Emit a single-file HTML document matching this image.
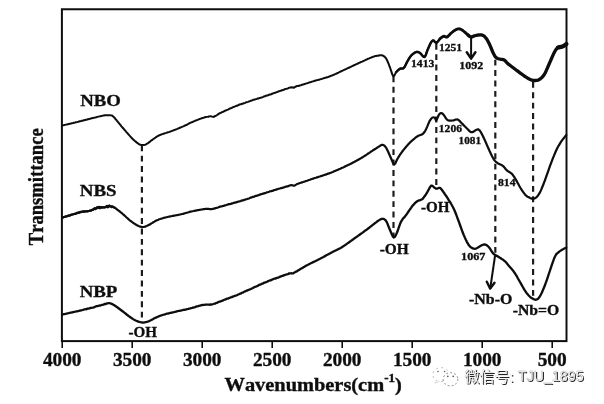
<!DOCTYPE html>
<html><head><meta charset="utf-8"><title>FTIR</title>
<style>
html,body{margin:0;padding:0;background:#fff;}
body{width:604px;height:404px;overflow:hidden;font-family:"Liberation Serif",serif;}
svg{display:block;position:absolute;left:0;top:0}
text{font-family:"Liberation Serif",serif;font-weight:bold;fill:#111;stroke:#111;stroke-width:0.35px;font-kerning:none;}
.sans{font-family:"Liberation Sans",sans-serif;font-weight:normal;stroke:none;}
.cjk{font-family:"Liberation Sans","Noto Sans CJK SC",sans-serif;font-weight:normal;stroke:none;}
</style></head><body>
<svg width="604" height="404" viewBox="0 0 604 404">
<defs>
<filter id="soft" x="-2%" y="-2%" width="104%" height="104%"><feGaussianBlur stdDeviation="0.45"/></filter>
<filter id="soft2" x="-2%" y="-10%" width="104%" height="120%"><feGaussianBlur stdDeviation="0.3"/></filter>
</defs>
<rect width="604" height="404" fill="#fff"/>
<g filter="url(#soft)">
<!-- frame -->
<rect x="61.9" y="9.25" width="504.6" height="331.85" fill="none" stroke="#111" stroke-width="2"/>
<g stroke="#111" stroke-width="1.6"><line x1="62.20" y1="341" x2="62.20" y2="348"/><line x1="132.20" y1="341" x2="132.20" y2="348"/><line x1="202.20" y1="341" x2="202.20" y2="348"/><line x1="272.20" y1="341" x2="272.20" y2="348"/><line x1="342.20" y1="341" x2="342.20" y2="348"/><line x1="412.20" y1="341" x2="412.20" y2="348"/><line x1="482.20" y1="341" x2="482.20" y2="348"/><line x1="552.20" y1="341" x2="552.20" y2="348"/></g>
<!-- dashed markers -->
<g stroke="#1e1e1e" stroke-width="2.2" stroke-dasharray="5.9 4.5"><line x1="141.90" y1="145.3" x2="141.90" y2="318.0"/><line x1="393.50" y1="76.4" x2="393.50" y2="236.5"/><line x1="436.30" y1="43.8" x2="436.30" y2="186.0"/><line x1="495.30" y1="59.7" x2="495.30" y2="255.5"/><line x1="533.10" y1="81.9" x2="533.10" y2="298.5"/></g>
<!-- curves -->
<g fill="none" stroke="#0a0a0a" stroke-linejoin="round" stroke-linecap="round">
<path stroke-width="2" d="M62.50 125.47L63.01 125.38L63.62 125.22L64.31 125.07L65.08 124.89L65.92 124.63L66.82 124.41L67.77 124.26L68.76 123.96L69.79 123.71L70.84 123.53L71.91 123.22L72.99 122.99L74.06 122.70L75.13 122.46L76.17 122.15L77.19 121.95L78.18 121.73L79.12 121.47L80.00 121.27L81.02 121.02L82.04 120.70L83.06 120.52L84.07 120.25L85.08 119.96L86.08 119.68L87.07 119.52L88.05 119.23L89.00 119.01L89.94 118.79L90.86 118.55L91.75 118.34L92.61 118.08L93.44 117.91L94.24 117.68L95.00 117.54L96.26 117.23L97.41 116.86L98.47 116.60L99.45 116.37L100.38 116.22L101.25 115.97L102.09 115.81L102.92 115.62L103.75 115.50L104.97 115.32L106.11 115.20L107.19 115.15L108.19 115.13L109.13 115.20L110.00 115.27L111.00 115.38L111.72 115.49L112.52 115.95L113.75 117.02L114.50 117.74L115.33 118.77L116.25 119.87L117.23 121.07L118.25 122.31L119.31 123.64L120.38 124.92L121.45 126.29L122.50 127.51L123.38 128.50L124.30 129.54L125.25 130.72L126.21 131.85L127.19 132.87L128.15 134.04L129.11 135.08L130.03 136.07L130.91 137.05L131.74 137.98L132.50 138.79L133.78 139.95L134.94 141.05L135.99 141.87L136.94 142.67L137.77 143.25L138.50 143.84L139.80 144.64L140.60 144.80L141.58 145.09L142.60 145.08L143.77 144.95L145.00 144.71L146.01 144.33L147.50 143.47L148.32 142.89L149.31 142.15L150.39 141.25L151.53 140.34L152.66 139.56L153.75 138.73L154.72 138.12L155.60 137.48L156.48 136.83L157.45 136.25L158.60 135.64L160.00 135.01L160.75 134.70L161.57 134.39L162.43 134.10L163.34 133.82L164.30 133.47L165.28 133.15L166.29 132.86L167.32 132.49L168.36 132.16L169.40 131.89L170.45 131.49L171.48 131.13L172.50 130.70L173.40 130.39L174.35 130.04L175.33 129.59L176.34 129.24L177.36 128.82L178.39 128.33L179.41 127.96L180.42 127.52L181.41 127.12L182.36 126.68L183.27 126.32L184.12 125.96L184.91 125.54L185.62 125.23L186.25 125.02L187.69 124.35L188.20 123.93L188.68 123.62L190.00 123.01L190.69 122.69L191.48 122.35L192.36 121.97L193.32 121.56L194.34 121.16L195.40 120.69L196.48 120.25L197.57 119.85L198.64 119.35L199.69 119.00L200.70 118.64L201.64 118.27L202.50 117.97L203.67 117.68L204.82 117.32L205.93 117.06L206.99 116.87L208.00 116.74L208.94 116.43L209.80 116.36L210.57 116.27L211.25 116.37L212.50 116.67L213.75 116.88L214.40 116.35L215.11 116.04L215.88 115.71L216.73 115.29L217.67 114.57L218.70 113.88L219.85 113.20L221.11 112.69L222.50 111.89L223.20 111.78L223.94 111.45L224.69 110.86L225.48 110.54L226.29 110.35L227.12 109.91L227.98 109.58L228.87 109.02L229.77 108.54L230.70 108.19L231.65 107.96L232.63 107.36L233.62 106.97L234.64 106.57L235.67 106.15L236.73 105.73L237.80 105.49L238.89 104.79L240.00 104.32L240.80 104.37L241.63 104.04L242.48 103.78L243.35 103.28L244.24 103.16L245.15 102.84L246.07 102.27L247.01 102.15L247.96 101.86L248.92 101.49L249.89 101.12L250.87 100.72L251.85 100.42L252.84 100.06L253.82 99.68L254.80 99.56L255.78 99.13L256.76 99.01L257.73 98.42L258.69 98.42L259.64 98.04L260.57 97.82L261.49 97.51L262.40 97.21L263.29 96.80L264.15 96.31L265.00 96.29L266.03 95.73L267.06 95.43L268.09 95.20L269.12 94.80L270.15 94.40L271.18 94.23L272.20 93.76L273.21 93.31L274.21 92.92L275.19 92.80L276.16 92.32L277.10 92.10L278.03 91.62L278.93 91.24L279.81 91.06L280.65 90.86L281.47 90.35L282.25 90.30L283.00 90.08L283.71 89.80L284.38 89.58L285.00 89.07L286.67 88.74L287.96 88.39L288.94 87.78L289.70 87.63L290.33 87.46L290.90 87.43L291.50 87.27L293.00 87.39L294.00 87.70L295.19 86.90L296.50 86.24L297.17 86.09L297.94 85.98L300.00 85.46L300.62 85.36L301.32 85.12L302.10 84.80L302.94 84.58L303.84 84.27L304.78 83.97L305.77 83.66L306.78 83.36L307.82 83.03L308.87 82.67L309.93 82.31L310.98 81.99L312.02 81.64L313.05 81.36L314.04 81.07L315.00 80.74L315.94 80.42L316.88 80.16L317.81 79.91L318.75 79.67L319.69 79.43L320.62 79.13L321.56 78.92L322.50 78.64L323.44 78.35L324.38 78.08L325.31 77.81L326.25 77.55L327.19 77.22L328.12 76.94L329.06 76.59L330.00 76.22L330.94 75.89L331.88 75.54L332.81 75.08L333.75 74.72L334.69 74.31L335.62 73.93L336.56 73.51L337.50 73.02L338.44 72.63L339.38 72.18L340.31 71.68L341.25 71.25L342.19 70.78L343.12 70.40L344.06 69.95L345.00 69.54L345.94 69.10L346.89 68.64L347.85 68.20L348.81 67.74L349.77 67.24L350.73 66.84L351.70 66.32L352.66 65.89L353.61 65.50L354.56 64.98L355.50 64.54L356.43 64.11L357.34 63.76L358.24 63.27L359.13 62.85L360.00 62.53L361.06 61.98L362.12 61.57L363.18 61.06L364.24 60.60L365.27 60.14L366.29 59.64L367.29 59.21L368.26 58.71L369.20 58.37L370.09 57.97L370.95 57.63L371.75 57.25L372.50 57.02L373.93 56.54L375.14 56.10L376.17 55.89L377.08 55.75L377.93 55.65L378.75 55.47L379.86 55.29L380.78 55.18L381.62 55.25L382.50 55.53L383.44 55.94L384.38 56.56L385.31 57.46L386.25 58.74L387.20 60.54L388.16 62.74L389.10 65.18L390.00 67.55L391.13 70.89L392.20 74.32L393.25 76.22L394.24 75.78L395.20 73.85L396.25 72.02L397.13 71.06L398.08 70.15L399.04 69.38L400.00 68.79L400.94 68.49L401.88 68.55L402.81 68.58L403.75 68.04L404.69 66.71L405.62 64.93L406.56 63.03L407.50 61.22L408.41 59.67L409.30 58.14L410.22 56.76L411.25 55.48L412.19 54.56L413.22 53.74L414.28 53.01L415.31 52.36L416.25 52.02L417.26 51.85L418.16 52.07L419.04 52.44L420.00 52.98L420.88 53.76L421.82 54.86L422.77 56.05L423.68 56.84L424.50 56.97L425.58 55.50L426.50 52.80L427.50 50.03L428.41 47.88L429.41 45.71L430.38 43.56L431.25 42.01L432.58 40.59L433.75 40.53L434.92 41.95L436.25 43.01L437.10 42.37L438.05 41.21L439.03 39.88L440.00 38.74L440.95 37.95L441.91 37.23L442.85 36.60L443.75 36.22L444.83 36.41L445.86 37.00L447.00 37.02L447.97 36.37L449.02 35.30L450.11 34.05L451.25 32.97L452.22 32.20L453.26 31.39L454.30 30.68L455.32 30.04L456.25 29.54L457.28 29.08L458.20 28.93L459.09 28.84L460.00 28.99L460.93 29.36L461.84 29.82L462.78 30.48L463.75 31.28L464.81 32.10L465.92 33.13L467.01 34.16L468.00 35.02L469.04 35.88L469.94 36.64L471.00 36.99L471.78 36.91L472.61 36.58L473.50 36.20L474.46 35.84L475.50 35.49L476.47 35.33L477.55 35.11L478.67 34.98L479.79 34.92L480.83 34.86L481.75 35.04L482.86 35.37L483.78 35.79L484.62 36.59L485.50 37.49L486.44 38.77L487.38 40.26L488.31 41.90L489.25 43.77L490.21 45.87L491.17 48.23L492.12 50.49L493.00 52.53L494.00 54.61L494.92 56.23L496.00 57.50L496.82 58.04L497.73 58.48L498.68 58.76L499.62 59.04L500.50 59.27L501.49 59.44L502.42 59.47L503.33 59.64L504.25 60.01L505.10 60.65L505.89 61.60L506.80 62.62L508.00 63.71L508.76 64.42L509.61 65.02L510.54 65.75L511.52 66.54L512.52 67.28L513.54 68.04L514.54 68.79L515.50 69.50L516.45 70.19L517.40 70.90L518.37 71.60L519.33 72.38L520.28 73.08L521.21 73.74L522.12 74.41L523.00 74.99L524.13 75.76L525.22 76.53L526.28 77.29L527.31 77.86L528.30 78.50L529.25 78.97L530.33 79.53L531.34 79.89L532.31 80.18L533.27 80.39L534.25 80.50L535.25 80.55L536.25 80.46L537.25 80.34L538.25 79.96L539.25 79.48L540.25 78.81L541.25 78.03L542.25 77.13L543.25 75.95L544.25 74.47L545.25 72.69L546.25 70.63L547.25 68.39L548.25 66.06L549.25 63.77L550.27 61.44L551.31 58.95L552.34 56.56L553.33 54.33L554.25 52.50L555.25 50.73L556.12 49.34L557.00 48.31L558.00 47.53L558.95 46.99L559.99 46.83L561.06 46.72L562.08 46.59L563.00 46.29L564.38 45.53L565.58 44.65L566.40 44.01"/>
<path stroke-width="2.4" d="M396.25 72.00L396.92 71.36L397.89 70.42L398.97 69.46L400.00 68.75L400.94 68.53L401.88 68.59L402.81 68.55L403.75 68.00L404.69 66.71L405.62 64.94L406.56 63.01L407.50 61.25L408.41 59.69L409.30 58.17L410.22 56.76L411.25 55.50L412.19 54.58L413.22 53.72L414.28 52.97L415.31 52.38L416.25 52.00L417.26 51.86L418.16 52.03L419.04 52.43L420.00 53.00L420.88 53.78L421.82 54.91L422.77 56.05L423.68 56.86L424.50 57.00L425.58 55.52L426.50 52.81L427.50 50.00L428.41 47.92L429.41 45.66L430.38 43.57L431.25 42.00L432.58 40.59L433.75 40.50L434.92 41.92L436.25 43.00L437.19 42.31L438.28 41.03L439.30 39.67L440.00 38.75"/>
<path stroke-width="2.8" d="M440.00 38.75L440.69 38.22L441.67 37.45L442.76 36.71L443.75 36.25L444.83 36.44L445.86 36.98L447.00 37.00L447.97 36.32L449.02 35.27L450.11 34.08L451.25 33.00L452.22 32.22L453.26 31.42L454.30 30.66L455.32 30.00L456.25 29.50L457.28 29.10L458.20 28.89L459.09 28.86L460.00 29.00L460.93 29.33L461.84 29.86L462.78 30.52L463.75 31.25L464.81 32.12L465.92 33.14L467.01 34.15L468.00 35.00L469.20 35.87L470.27 36.55L471.00 37.00"/>
<path stroke-width="3.3" d="M468.00 35.00L468.72 35.65L469.78 36.52L471.00 37.00L471.78 36.91L472.61 36.60L473.50 36.20L474.46 35.79L475.50 35.50L476.47 35.32L477.55 35.15L478.67 35.00L479.79 34.91L480.83 34.90L481.75 35.00L482.86 35.33L483.78 35.83L484.62 36.54L485.50 37.50L486.44 38.74L487.38 40.23L488.31 41.92L489.25 43.75L490.21 45.85L491.17 48.20L492.12 50.52L493.00 52.50L494.00 54.56L494.92 56.21L496.00 57.50L496.82 58.07L497.73 58.48L498.68 58.78L499.62 59.02L500.50 59.25L501.49 59.44L502.42 59.50L503.33 59.62L504.25 60.00L505.10 60.68L505.89 61.56L506.80 62.60L508.00 63.75L508.76 64.37L509.61 65.05L510.54 65.77L511.52 66.52L512.52 67.27L513.54 68.03L514.54 68.78L515.50 69.50L516.45 70.21L517.40 70.93L518.37 71.65L519.33 72.36L520.28 73.06L521.21 73.74L522.12 74.39L523.00 75.00L524.13 75.78L525.22 76.54L526.28 77.25L527.31 77.91L528.30 78.50L529.25 79.00L530.33 79.50L531.34 79.90L532.31 80.20L533.27 80.40L534.25 80.50L535.25 80.52L536.25 80.47L537.25 80.31L538.25 80.00L539.25 79.50L540.25 78.85L541.25 78.06L542.25 77.11L543.25 75.93L544.25 74.50L545.25 72.73L546.25 70.64L547.25 68.36L548.25 66.02L549.25 63.75L550.27 61.43L551.31 58.99L552.34 56.57L553.33 54.36L554.25 52.50L555.25 50.72L556.12 49.37L557.00 48.34L558.00 47.50L558.95 47.03L559.99 46.80L561.06 46.68L562.08 46.55L563.00 46.30L564.38 45.53L565.58 44.64L566.40 44.00"/>
<path stroke-width="4.2" d="M558.00 47.50L558.71 47.35L559.72 47.16L560.88 46.92L562.02 46.63L563.00 46.30L564.38 45.53L565.58 44.64L566.40 44.00"/>
<path stroke-width="2.2" d="M62.50 217.55L63.03 217.36L63.71 217.11L64.51 216.93L65.40 216.62L66.37 216.34L67.39 216.04L68.44 215.65L69.50 215.41L70.55 215.09L71.55 214.77L72.50 214.50L73.42 214.23L74.35 213.93L75.29 213.69L76.24 213.36L77.19 213.13L78.12 212.88L79.05 212.61L79.95 212.37L80.83 212.19L81.68 211.97L82.50 211.71L83.57 211.58L84.58 211.43L85.55 211.27L86.48 211.22L87.39 211.13L88.27 211.03L89.14 210.94L90.00 210.79L91.10 210.38L92.13 209.99L93.12 209.49L94.12 208.95L95.15 208.58L96.25 208.21L97.14 208.05L98.07 207.89L99.03 207.77L100.00 207.64L100.97 207.61L101.93 207.54L102.86 207.45L103.75 207.29L104.88 207.12L105.99 206.85L107.06 206.57L108.09 206.34L109.07 206.20L110.00 206.17L110.96 206.21L111.76 206.35L112.53 206.60L113.40 206.98L114.50 207.59L115.34 208.15L116.27 208.77L117.27 209.53L118.31 210.37L119.38 211.18L120.45 212.03L121.50 212.96L122.50 213.77L123.46 214.56L124.41 215.42L125.35 216.32L126.28 217.21L127.21 218.04L128.14 218.87L129.07 219.71L130.00 220.53L130.95 221.20L131.92 221.95L132.90 222.63L133.88 223.30L134.83 223.93L135.77 224.53L136.66 225.02L137.50 225.45L138.53 225.95L139.47 226.36L140.36 226.69L141.22 226.84L142.09 226.95L143.00 226.99L143.91 226.89L144.79 226.72L145.67 226.36L146.60 226.01L147.62 225.54L148.75 224.95L149.58 224.61L150.47 224.02L151.40 223.44L152.36 222.87L153.36 222.22L154.38 221.64L155.41 221.02L156.46 220.45L157.50 219.96L158.35 219.67L159.21 219.30L160.07 219.05L160.94 218.74L161.82 218.52L162.72 218.20L163.63 217.94L164.56 217.70L165.51 217.52L166.49 217.26L167.50 216.98L168.38 216.75L169.29 216.61L170.21 216.45L171.16 216.23L172.13 215.99L173.10 215.81L174.09 215.63L175.08 215.46L176.07 215.26L177.06 215.07L178.05 214.94L179.03 214.76L180.00 214.47L180.96 214.32L181.92 214.03L182.88 213.81L183.85 213.56L184.81 213.30L185.77 212.95L186.73 212.71L187.69 212.47L188.65 212.25L189.62 211.91L190.58 211.68L191.54 211.50L192.50 211.21L193.48 211.03L194.47 210.81L195.49 210.63L196.51 210.45L197.54 210.18L198.56 210.04L199.57 209.85L200.56 209.69L201.52 209.50L202.46 209.39L203.35 209.20L204.20 209.09L205.00 208.97L206.16 208.94L207.17 208.91L208.07 208.92L208.91 208.95L209.72 209.20L210.57 209.20L211.48 209.20L212.50 208.96L213.29 208.84L214.06 208.54L214.84 208.52L215.64 208.03L216.45 207.93L217.31 207.74L218.21 207.41L219.16 206.88L220.19 206.60L221.30 206.47L222.50 206.05L223.23 205.93L223.99 205.73L224.76 205.37L225.56 205.32L226.38 205.05L227.22 204.69L228.07 204.48L228.95 204.15L229.85 204.04L230.78 204.00L231.72 203.44L232.68 203.36L233.66 202.93L234.67 202.64L235.69 202.56L236.74 202.12L237.80 201.74L238.89 201.46L240.00 201.30L240.80 201.03L241.63 200.57L242.48 200.38L243.35 200.36L244.24 199.81L245.15 199.63L246.07 199.28L247.01 199.09L247.96 198.71L248.92 198.46L249.89 198.04L250.87 197.59L251.85 197.25L252.84 196.89L253.82 196.82L254.80 196.23L255.78 195.87L256.76 195.88L257.73 195.28L258.69 195.21L259.64 194.60L260.57 194.43L261.49 194.03L262.40 193.96L263.29 193.59L264.15 193.32L265.00 193.09L266.03 192.81L267.06 192.30L268.09 192.07L269.12 191.70L270.15 191.26L271.18 191.21L272.20 190.81L273.21 190.59L274.21 190.07L275.19 189.90L276.16 189.58L277.10 189.40L278.03 188.89L278.93 188.72L279.81 188.52L280.65 188.12L281.47 188.05L282.25 187.89L283.00 187.56L283.71 187.43L284.38 187.22L285.00 186.90L286.67 186.45L287.96 186.29L288.94 185.76L289.70 185.57L290.33 185.28L290.90 185.20L291.50 185.08L293.00 185.53L294.00 185.68L295.19 185.13L296.50 184.38L297.17 183.96L297.94 183.78L300.00 183.00L300.62 182.78L301.32 182.60L302.10 182.34L302.94 182.06L303.84 181.72L304.78 181.43L305.77 181.07L306.78 180.79L307.82 180.43L308.87 180.02L309.93 179.73L310.98 179.31L312.02 178.95L313.05 178.67L314.04 178.30L315.00 178.00L315.94 177.70L316.88 177.34L317.81 177.11L318.75 176.76L319.69 176.48L320.62 176.18L321.56 175.92L322.50 175.62L323.44 175.27L324.38 174.95L325.31 174.65L326.25 174.35L327.19 173.99L328.12 173.66L329.06 173.38L330.00 173.02L330.94 172.68L331.88 172.32L332.81 171.93L333.75 171.50L334.69 171.09L335.62 170.71L336.56 170.32L337.50 169.92L338.44 169.51L339.38 169.08L340.31 168.71L341.25 168.22L342.19 167.81L343.12 167.42L344.06 166.97L345.00 166.48L345.94 166.03L346.89 165.63L347.85 165.09L348.81 164.63L349.77 164.20L350.73 163.72L351.70 163.20L352.66 162.71L353.61 162.23L354.56 161.80L355.50 161.27L356.43 160.83L357.34 160.31L358.24 159.84L359.13 159.25L360.00 158.77L361.06 158.13L362.12 157.53L363.18 156.86L364.24 156.16L365.27 155.53L366.29 154.81L367.29 154.17L368.26 153.51L369.20 152.93L370.09 152.29L370.95 151.70L371.75 151.14L372.50 150.69L373.93 149.78L375.14 149.00L376.17 148.35L377.08 147.76L377.93 147.17L378.75 146.66L379.86 145.98L380.78 145.33L381.62 144.87L382.50 144.83L383.41 145.07L384.30 145.59L385.22 146.52L386.25 147.95L387.20 149.76L388.26 152.04L389.33 154.49L390.36 156.80L391.25 158.77L392.39 161.51L393.31 163.65L394.25 164.51L395.25 163.49L396.28 161.22L397.50 158.72L398.35 157.35L399.25 155.95L400.24 154.47L401.31 152.86L402.50 151.24L403.32 150.18L404.20 149.09L405.13 147.98L406.09 146.79L407.08 145.70L408.07 144.51L409.05 143.46L410.00 142.50L410.95 141.56L411.92 140.71L412.90 139.84L413.88 139.03L414.83 138.22L415.77 137.44L416.66 136.84L417.50 136.25L418.56 135.64L419.56 135.21L420.52 134.94L421.41 134.67L422.24 134.23L423.00 133.77L424.25 132.35L425.25 130.70L426.25 128.79L427.34 126.34L428.44 123.58L429.50 121.22L430.54 119.61L431.55 118.26L432.50 117.49L433.86 117.39L435.00 117.98L435.62 119.60L436.25 120.54L437.42 118.08L438.75 114.98L440.00 113.52L441.25 112.98L442.42 113.53L443.75 114.98L444.57 116.19L445.47 117.55L446.45 118.97L447.50 119.97L448.42 120.37L449.41 120.60L450.44 120.65L451.48 120.60L452.50 120.51L453.52 120.36L454.55 119.94L455.57 119.63L456.56 119.48L457.50 119.46L458.55 120.00L459.50 120.87L460.45 121.89L461.50 123.00L462.44 123.87L463.43 124.90L464.45 126.03L465.48 126.99L466.50 128.04L467.50 128.97L468.50 130.13L469.50 131.09L470.50 131.86L471.50 132.21L472.54 132.09L473.61 131.63L474.66 130.84L475.64 130.15L476.50 129.78L477.55 129.44L478.34 129.33L479.25 130.05L480.09 131.03L480.98 132.43L481.95 134.16L483.00 136.24L483.92 138.24L484.91 140.40L485.94 142.78L486.98 145.18L488.00 147.46L489.02 149.73L490.06 152.08L491.09 154.23L492.08 156.27L493.00 158.04L493.97 159.62L494.80 160.74L495.67 161.56L496.75 162.49L497.67 163.17L498.73 163.70L499.86 164.27L500.99 164.78L502.06 165.32L503.00 165.98L504.14 167.11L505.09 168.29L506.00 169.45L507.00 170.50L507.92 171.20L508.89 171.79L509.89 172.37L510.85 173.03L511.75 173.72L512.73 174.84L513.61 176.06L514.50 177.41L515.50 178.97L516.42 180.64L517.41 182.46L518.44 184.33L519.48 186.24L520.50 187.97L521.52 189.56L522.56 191.21L523.59 192.61L524.58 193.96L525.50 194.96L526.53 195.92L527.45 196.65L528.34 197.10L529.25 197.55L530.19 197.99L531.12 198.39L532.06 198.70L533.00 198.71L533.94 198.62L534.88 198.31L535.81 197.75L536.75 197.01L537.67 195.95L538.58 194.72L539.51 193.16L540.50 191.23L541.34 189.38L542.22 187.29L543.13 185.01L544.06 182.56L545.00 180.04L545.96 177.41L546.94 174.58L547.94 171.78L548.96 168.82L550.00 165.96L550.89 163.61L551.81 161.19L552.75 158.70L553.69 156.34L554.61 154.05L555.50 152.05L556.52 149.79L557.50 147.82L558.47 146.01L559.46 144.33L560.50 142.65L561.49 141.14L562.59 139.65L563.71 138.22L564.77 136.86L565.66 135.80L566.30 135.03"/>
<path stroke-width="2.1" d="M62.50 217.50L62.91 217.38L63.40 217.23L63.98 217.05L64.63 216.91L65.33 216.60L66.09 216.29L66.88 216.20L67.69 216.21L68.52 215.61L69.35 215.79L70.18 215.39L70.98 214.80L71.76 214.51L72.50 214.51L73.22 214.19L73.95 213.95L74.69 214.01L75.43 214.02L76.17 213.51L76.92 212.86L77.66 212.72L78.39 212.66L79.11 212.71L79.83 212.04L80.52 211.80L81.20 211.87L81.86 211.67L82.50 211.28L83.36 211.62L84.18 211.88L84.97 211.40L85.74 211.54L86.48 211.57L87.21 211.52L87.92 211.52L88.62 210.96L89.31 211.07L90.00 210.50L90.83 210.64L91.62 210.10L92.38 209.81L93.12 209.96L93.87 208.77L94.63 208.18L95.42 209.10L96.25 208.40L96.95 207.21L97.69 206.97L98.45 207.52L99.22 206.75L100.00 208.32L100.78 206.96L101.55 207.08L102.31 207.24L103.05 207.41L103.75 207.16L104.60 207.41L105.44 207.30L106.26 206.66L107.06 205.80L107.84 207.40L108.59 206.69L109.31 205.39L110.00 206.08L110.90 206.79L111.80 207.19L112.64 206.50L113.40 207.01L114.03 207.42L114.50 207.60"/>
<path stroke-width="2.3" d="M62.50 314.54L63.05 314.41L63.73 314.21L64.53 314.05L65.42 313.87L66.40 313.69L67.43 313.40L68.51 313.18L69.62 312.91L70.74 312.72L71.86 312.41L72.95 312.26L74.00 311.98L75.00 311.76L75.96 311.49L76.92 311.28L77.88 311.08L78.85 310.89L79.81 310.63L80.77 310.37L81.73 310.27L82.69 309.99L83.65 309.71L84.62 309.30L85.58 309.11L86.54 309.23L87.50 308.53L88.48 308.52L89.49 308.32L90.51 307.90L91.55 307.88L92.59 307.70L93.63 307.40L94.65 307.06L95.65 306.47L96.61 306.13L97.54 306.11L98.42 305.81L99.24 305.52L100.00 305.72L101.43 304.93L102.62 304.94L103.64 304.70L104.55 303.94L105.40 304.19L106.25 303.69L107.45 303.35L108.48 303.19L109.47 303.12L110.50 303.50L111.34 303.72L112.14 304.10L112.97 304.53L113.90 305.01L115.00 305.74L115.79 306.27L116.66 306.86L117.59 307.54L118.56 308.26L119.56 309.05L120.55 309.77L121.54 310.49L122.50 311.22L123.45 311.96L124.40 312.72L125.37 313.45L126.33 314.25L127.28 314.95L128.21 315.71L129.12 316.39L130.00 316.97L131.11 317.79L132.18 318.46L133.20 319.13L134.21 319.73L135.22 320.28L136.25 320.74L137.29 321.15L138.33 321.62L139.38 321.97L140.42 322.21L141.46 322.41L142.50 322.48L143.54 322.53L144.58 322.40L145.62 322.16L146.67 321.96L147.71 321.66L148.75 321.23L149.78 320.87L150.79 320.30L151.80 319.70L152.82 319.16L153.89 318.53L155.00 318.02L155.84 317.62L156.67 317.20L157.50 316.87L158.36 316.54L159.27 316.13L160.24 315.77L161.31 315.42L162.50 314.99L163.29 314.76L164.12 314.52L164.99 314.30L165.90 313.99L166.83 313.73L167.79 313.54L168.78 313.27L169.78 312.99L170.81 312.80L171.84 312.54L172.89 312.26L173.94 312.05L175.00 311.78L175.87 311.57L176.77 311.32L177.69 311.10L178.63 310.96L179.59 310.77L180.55 310.53L181.52 310.34L182.50 310.15L183.48 309.91L184.45 309.76L185.41 309.54L186.37 309.32L187.31 309.09L188.23 308.92L189.13 308.69L190.00 308.52L191.05 308.20L192.09 307.94L193.11 307.62L194.11 307.34L195.10 307.05L196.08 306.70L197.04 306.40L197.99 306.16L198.92 305.85L199.84 305.63L200.74 305.36L201.63 305.14L202.50 305.00L203.50 304.88L204.47 304.77L205.41 304.68L206.32 304.64L207.21 304.57L208.10 304.59L208.97 304.57L209.84 304.75L210.72 304.39L211.60 304.58L212.50 304.24L213.38 304.01L214.22 303.71L215.02 303.69L215.82 303.12L216.62 302.94L217.45 302.58L218.31 302.10L219.23 301.72L220.23 301.58L221.31 301.07L222.50 300.58L223.23 300.37L223.99 299.79L224.76 299.72L225.56 299.44L226.38 298.95L227.22 298.73L228.07 298.60L228.95 298.04L229.85 297.86L230.78 297.30L231.72 297.12L232.68 296.61L233.66 296.32L234.67 295.88L235.69 295.65L236.74 295.19L237.80 294.67L238.89 294.28L240.00 293.72L240.80 293.52L241.63 292.96L242.48 292.69L243.35 292.32L244.24 291.85L245.15 291.32L246.07 290.94L247.01 290.68L247.96 290.09L248.92 289.84L249.89 289.31L250.87 289.02L251.85 288.52L252.84 288.03L253.82 287.44L254.80 286.87L255.78 286.61L256.76 286.23L257.73 285.85L258.69 285.15L259.64 284.71L260.57 284.59L261.49 284.09L262.40 283.60L263.29 283.31L264.15 282.73L265.00 282.52L266.03 282.14L267.06 281.69L268.10 281.12L269.14 280.70L270.17 280.47L271.21 280.17L272.23 279.51L273.25 279.08L274.26 278.73L275.25 278.62L276.22 278.12L277.17 277.80L278.10 277.65L279.01 277.19L279.88 276.75L280.73 276.61L281.54 276.06L282.31 275.89L283.05 275.77L283.75 275.34L284.40 275.05L285.00 275.01L286.79 274.29L288.02 274.07L288.84 273.48L289.43 273.55L289.92 273.28L290.50 273.31L291.94 273.26L293.00 273.46L293.66 273.09L295.50 271.90L296.11 271.63L296.82 271.33L297.61 270.71L298.48 270.19L299.40 269.67L300.37 269.06L301.38 268.48L302.42 267.90L303.46 267.29L304.50 266.69L305.53 266.07L306.53 265.48L307.50 264.95L308.45 264.48L309.40 263.97L310.35 263.52L311.31 263.01L312.27 262.59L313.24 262.10L314.20 261.64L315.17 261.18L316.14 260.69L317.11 260.20L318.07 259.71L319.04 259.20L320.00 258.78L320.97 258.24L321.95 257.68L322.94 257.24L323.93 256.67L324.92 256.13L325.91 255.57L326.90 255.00L327.87 254.56L328.84 253.95L329.79 253.45L330.71 253.01L331.62 252.43L332.50 252.00L333.49 251.48L334.44 250.98L335.34 250.61L336.22 250.14L337.07 249.69L337.93 249.32L338.78 248.84L339.66 248.46L340.56 247.98L341.51 247.44L342.50 246.75L343.38 246.26L344.29 245.63L345.21 245.02L346.16 244.34L347.13 243.67L348.10 242.95L349.09 242.29L350.08 241.52L351.07 240.89L352.06 240.07L353.05 239.45L354.03 238.66L355.00 237.96L355.97 237.34L356.95 236.62L357.94 235.94L358.93 235.20L359.92 234.51L360.91 233.74L361.90 233.10L362.87 232.38L363.84 231.73L364.79 230.94L365.71 230.27L366.62 229.67L367.50 229.04L368.52 228.22L369.54 227.47L370.54 226.67L371.53 225.88L372.50 225.12L373.43 224.39L374.34 223.62L375.20 222.97L376.02 222.39L376.79 221.78L377.50 221.30L378.84 220.36L379.92 219.65L380.83 219.17L381.66 218.88L382.50 218.80L383.53 218.87L384.45 219.26L385.34 220.05L386.25 221.21L387.19 223.00L388.12 225.32L389.06 227.77L390.00 229.97L390.95 232.22L391.91 234.57L392.85 236.50L393.75 237.50L394.83 236.97L395.86 235.13L397.00 232.51L397.97 229.99L399.02 226.95L400.11 223.81L401.25 221.28L402.20 219.77L403.20 218.40L404.21 217.46L405.24 216.11L406.25 214.83L407.25 213.38L408.25 211.81L409.25 210.48L410.25 208.98L411.25 207.64L412.23 206.00L413.19 205.21L414.16 203.93L415.17 202.85L416.25 202.00L417.25 201.31L418.33 200.63L419.45 200.28L420.56 199.97L421.59 199.50L422.50 198.96L423.64 197.52L424.61 196.35L425.46 195.02L426.25 193.77L427.58 191.61L428.75 189.46L430.00 187.17L431.25 185.54L432.50 185.85L433.75 187.01L434.92 188.06L436.25 188.73L437.10 188.65L438.05 188.24L439.03 187.87L440.00 187.96L440.91 188.66L441.80 189.77L442.72 191.03L443.75 192.48L444.67 193.78L445.66 195.27L446.69 196.74L447.73 198.32L448.75 200.04L449.75 201.59L450.75 203.21L451.75 204.95L452.75 206.70L453.75 208.71L454.75 211.07L455.75 213.50L456.75 216.13L457.75 218.88L458.75 221.47L459.75 224.25L460.75 227.00L461.75 229.80L462.75 232.48L463.75 235.00L464.75 237.33L465.75 239.54L466.75 241.62L467.75 243.44L468.75 245.03L469.77 246.27L470.81 247.20L471.84 247.92L472.83 248.36L473.75 248.73L474.78 248.83L475.70 248.59L476.59 248.25L477.50 247.79L478.44 247.29L479.38 246.63L480.31 245.97L481.25 245.49L482.19 245.04L483.12 244.74L484.06 244.45L485.00 244.48L485.94 244.86L486.89 245.33L487.83 246.14L488.75 246.98L490.00 248.69L491.22 250.61L492.30 252.34L493.31 253.60L494.50 254.58L495.31 255.12L496.26 255.63L497.32 256.14L498.41 256.71L499.50 257.41L500.44 257.96L501.43 258.71L502.45 259.35L503.44 260.05L504.37 260.78L505.20 261.46L506.42 262.75L507.38 264.05L508.60 265.59L509.42 266.51L510.33 267.51L511.31 268.60L512.31 269.78L513.32 270.97L514.30 272.33L515.25 273.74L516.21 275.28L517.16 276.94L518.11 278.71L519.06 280.36L520.00 281.99L520.94 283.65L521.89 285.37L522.83 287.01L523.75 288.64L524.64 290.15L525.50 291.45L526.48 292.88L527.42 294.07L528.32 295.10L529.18 296.00L530.00 296.80L531.26 297.84L532.41 298.47L533.50 299.05L534.52 299.43L535.48 299.79L536.50 299.57L537.57 299.10L538.70 298.07L540.00 296.21L540.91 294.54L541.92 292.44L542.96 290.04L544.01 287.53L545.00 285.05L545.95 282.43L546.88 279.79L547.80 277.06L548.67 274.49L549.50 272.00L550.77 268.19L551.92 264.64L553.00 261.55L553.99 258.91L554.90 256.77L555.80 255.00L556.68 253.77L557.54 253.08L558.50 252.26L559.58 251.40L560.75 250.63L562.00 249.78L563.10 249.21L564.32 248.55L565.43 248.04L566.20 247.72"/>
</g>
<!-- arrows -->
<g stroke="#111" stroke-width="2" fill="none" stroke-linecap="round" stroke-linejoin="round">
<path d="M471.1 37.5V58"/><path stroke-width="2.5" d="M466.8 52.2L471.1 58.6L475.4 52.2"/>
<path d="M495 256L490.3 288"/><path stroke-width="2.4" d="M486.8 281.7L490.2 288.6L494.5 282.7"/>
</g>
<!-- tick labels -->
<g font-size="17.9" style="stroke-width:0.55px"><text x="62.20" y="365.8" text-anchor="middle" textLength="38.6" lengthAdjust="spacingAndGlyphs">4000</text><text x="132.20" y="365.8" text-anchor="middle" textLength="38.6" lengthAdjust="spacingAndGlyphs">3500</text><text x="202.20" y="365.8" text-anchor="middle" textLength="38.6" lengthAdjust="spacingAndGlyphs">3000</text><text x="272.20" y="365.8" text-anchor="middle" textLength="38.6" lengthAdjust="spacingAndGlyphs">2500</text><text x="342.20" y="365.8" text-anchor="middle" textLength="38.6" lengthAdjust="spacingAndGlyphs">2000</text><text x="412.20" y="365.8" text-anchor="middle" textLength="38.6" lengthAdjust="spacingAndGlyphs">1500</text><text x="482.20" y="365.8" text-anchor="middle" textLength="38.6" lengthAdjust="spacingAndGlyphs">1000</text><text x="552.20" y="365.8" text-anchor="middle" textLength="29.0" lengthAdjust="spacingAndGlyphs">500</text></g>
<!-- axis titles -->
<text x="224.5" y="391" font-size="18" textLength="177.3" lengthAdjust="spacingAndGlyphs">Wavenumbers(cm<tspan font-size="11.5" dy="-9.3">-1</tspan><tspan dy="9.3">)</tspan></text>
<text transform="translate(43 245.3) rotate(-90) scale(1 1.085)" font-size="18.65" textLength="117" lengthAdjust="spacingAndGlyphs">Transmittance</text>
<!-- sample labels -->
<g font-size="17.7" style="stroke-width:0.5px">
<text x="80.2" y="106" textLength="40.7" lengthAdjust="spacingAndGlyphs">NBO</text>
<text x="79.7" y="195.6" textLength="36.9" lengthAdjust="spacingAndGlyphs">NBS</text>
<text x="79.7" y="296.9" textLength="37.7" lengthAdjust="spacingAndGlyphs">NBP</text>
</g>
<!-- peak numbers -->
<g font-size="11" style="stroke-width:0.45px">
<text x="411" y="66.9" textLength="23.3" lengthAdjust="spacingAndGlyphs">1413</text>
<text x="439" y="50.5" textLength="23" lengthAdjust="spacingAndGlyphs">1251</text>
<text x="459.3" y="69.4" textLength="24" lengthAdjust="spacingAndGlyphs">1092</text>
<text x="438.8" y="132" textLength="23.2" lengthAdjust="spacingAndGlyphs">1206</text>
<text x="458.6" y="144" textLength="22.5" lengthAdjust="spacingAndGlyphs">1081</text>
<text x="498" y="186.2" textLength="17.5" lengthAdjust="spacingAndGlyphs">814</text>
<text x="461.1" y="259.7" textLength="24.3" lengthAdjust="spacingAndGlyphs">1067</text>
</g>
<!-- assignments -->
<g font-size="14.3" style="stroke-width:0.55px">
<text x="128.6" y="336.8" textLength="28.5" lengthAdjust="spacingAndGlyphs">-OH</text>
<text x="379.7" y="253.5" textLength="29" lengthAdjust="spacingAndGlyphs">-OH</text>
<text x="421" y="211.8" textLength="28.5" lengthAdjust="spacingAndGlyphs">-OH</text>
<text x="469" y="303.7" textLength="43.3" lengthAdjust="spacingAndGlyphs">-Nb-O</text>
<text x="512.7" y="314.8" textLength="46.6" lengthAdjust="spacingAndGlyphs">-Nb=O</text>
</g>
</g>
<!-- watermark -->
<g filter="url(#soft2)">
<g fill="#222" transform="translate(1.05 1.05)"><text class="cjk" x="464.4 479.4 494.4 509.4" y="381.7" font-size="15" style="fill:#222">微信号:</text><text class="sans" x="517.7" y="381.4" font-size="14.6" textLength="66" lengthAdjust="spacingAndGlyphs" style="fill:#222">TJU_1895</text></g>
<text class="cjk" x="464.4 479.4 494.4 509.4" y="381.7" font-size="15" style="fill:#fff;stroke:#b5b5b5;stroke-width:0.245px">微信号:</text><text class="sans" x="517.7" y="381.4" font-size="14.6" textLength="66" lengthAdjust="spacingAndGlyphs" style="fill:#fff;stroke:#aaa;stroke-width:0.35px">TJU_1895</text>
<g fill="#fff" stroke="#777" stroke-width="0.85" stroke-dasharray="1.2 2.9" stroke-linecap="round">
<ellipse cx="441" cy="374.6" rx="8.2" ry="7" stroke="#aaa" stroke-dasharray="1 4.2"/>
<path d="M436.5 380.2L434.8 383.2L439.3 381.5" stroke-dasharray="none" stroke-width="0.5" stroke="#bbb"/>
<ellipse cx="450.5" cy="379.3" rx="7.4" ry="6.6"/>
</g>
<g fill="#555"><circle cx="438" cy="371.6" r="0.75"/><circle cx="444.6" cy="371.6" r="0.75"/><circle cx="447.8" cy="376.4" r="0.8"/><circle cx="453.2" cy="376.4" r="0.8"/></g>
</g>
</svg>
</body></html>
